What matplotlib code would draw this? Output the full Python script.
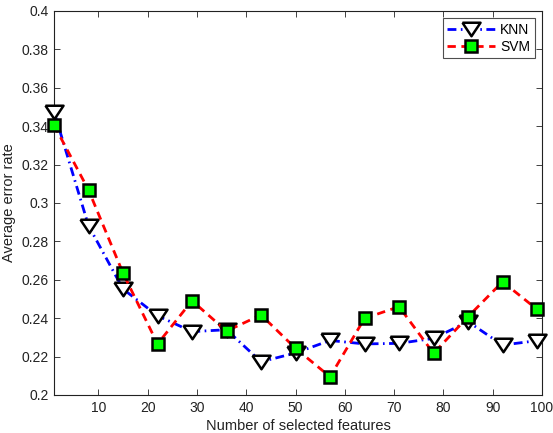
import matplotlib
matplotlib.use("Agg")
import matplotlib.pyplot as plt

plt.rcParams['font.family'] = ['Liberation Sans', 'DejaVu Sans']

x = [1, 8, 15, 22, 29, 36, 43, 50, 57, 64, 71, 78, 85, 92, 99]
knn = [0.3476, 0.2882, 0.2552, 0.2413, 0.2330, 0.2340, 0.2173, 0.2219, 0.2284,
       0.2266, 0.2269, 0.2295, 0.2382, 0.2260, 0.2283]
svm = [0.3406, 0.3068, 0.2635, 0.2266, 0.2491, 0.2333, 0.2417, 0.2243, 0.2095,
       0.2399, 0.2460, 0.2217, 0.2408, 0.2590, 0.2446]
xticks = [10, 20, 30, 40, 50, 60, 70, 80, 90, 100]
yticks = [0.2, 0.22, 0.24, 0.26, 0.28, 0.3, 0.32, 0.34, 0.36, 0.38, 0.4]
ytick_labels = ['0.2', '0.22', '0.24', '0.26', '0.28', '0.3', '0.32', '0.34', '0.36', '0.38', '0.4']

fig = plt.figure(figsize=(5.53, 4.33), dpi=100)
ax = fig.add_axes([54/553, 38/433, 488/553, 384/433])

tri = [(-1.0, 0.75), (1.0, 0.75), (0.0, -0.75), (-1.0, 0.75)]
ax.plot(x, knn, color='#0000ff', linestyle=(0, (3.2, 1.6, 0.6, 1.6)), linewidth=2,
        marker=tri, markersize=13, markerfacecolor='white',
        markeredgecolor='black', markeredgewidth=1.8, label='KNN', zorder=3,
        clip_on=False)
ax.plot(x, svm, color='#ff0000', linestyle=(0, (3.0, 2.0)), linewidth=2,
        marker='s', markersize=8.5, markerfacecolor='#00ff00',
        markeredgecolor='black', markeredgewidth=1.8, label='SVM', zorder=4,
        clip_on=False)

ax.set_xlim(1, 100)
ax.set_ylim(0.2, 0.4)
ax.set_xticks(xticks)
ax.set_yticks(yticks)
ax.set_yticklabels(ytick_labels)
ax.tick_params(direction='in', top=True, right=True, labelsize=10, length=4,
               width=0.6, pad=4, colors='#222222')
for s in ax.spines.values():
    s.set_linewidth(0.8)
    s.set_color('#222222')
ax.set_xlabel('Number of selected features', fontsize=10.5, labelpad=3, color='#222222')
ax.set_ylabel('Average error rate', fontsize=10.5, labelpad=4, color='#222222')

leg = ax.legend(loc='upper right', fontsize=10, frameon=True, fancybox=False,
                edgecolor='#222222', handlelength=3.4, borderpad=0.35,
                labelspacing=0.2, handletextpad=0.4, borderaxespad=0.5)
leg.get_frame().set_linewidth(0.8)

fig.savefig('out.png', dpi=100)
